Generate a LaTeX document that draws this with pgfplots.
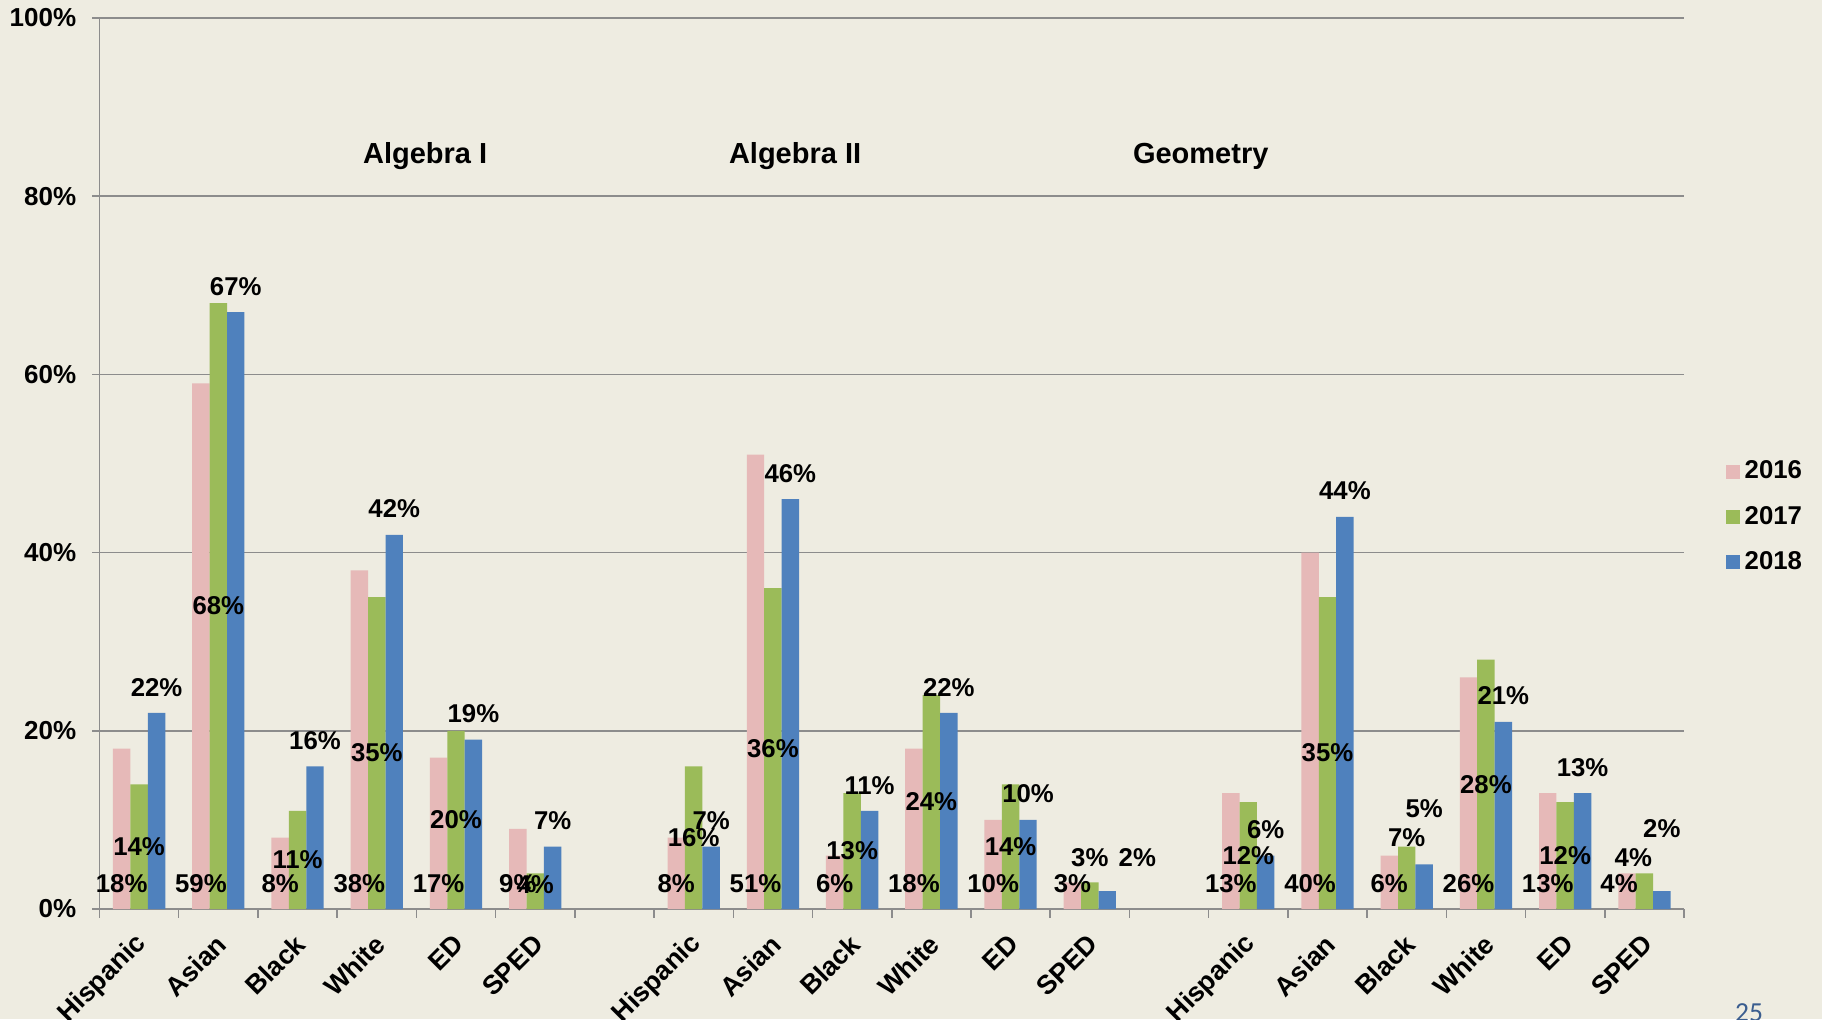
\documentclass[border=0pt]{standalone}
\usepackage{pgfplots}
\pgfplotsset{compat=1.18}
\usepackage{pgfplotstable}
\usepackage{fontspec}
\setmainfont{Liberation Sans}
\newfontfamily\pnfont{Carlito}
\definecolor{bg}{HTML}{EEECE1}
\definecolor{cpink}{HTML}{E6B9B8}
\definecolor{cgreen}{HTML}{9BBB59}
\definecolor{cblue}{HTML}{4F81BD}
\definecolor{gridc}{HTML}{8C8C8C}
\definecolor{pnum}{HTML}{3A5D8F}
\newcommand\lbfont{\bfseries\fontsize{10.3}{12}\selectfont}

% columns: x position, value, label y, label x offset
\pgfplotstableread{
x v ly dx
0 18 2.8 0
1 59 2.8 0
2 8 2.8 0
3 38 2.8 0
4 17 2.8 0
5 9 2.8 0
7 8 2.8 0
8 51 2.8 0
9 6 2.8 0
10 18 2.8 0
11 10 2.8 0
12 3 2.8 0
14 13 2.8 0
15 40 2.8 0
16 6 2.8 0
17 26 2.8 0
18 13 2.8 0
19 4 2.8 -0.1
}\tA
\pgfplotstableread{
x v ly dx
0 14 7 0
1 68 34 0
2 11 5.5 0
3 35 17.5 0
4 20 10 0
5 4 2.7 0
7 16 8 0
8 36 18 0
9 13 6.5 0
10 24 12 0
11 14 7 0
12 3 5.8 0
14 12 6 0
15 35 17.5 0
16 7 8 0
17 28 14 0
18 12 6 0
19 4 5.8 -0.14
}\tB
\pgfplotstableread{
x v ly dx
0 22 24.9 0
1 67 69.9 0
2 16 18.9 0
3 42 44.9 0
4 19 21.9 0
5 7 9.9 0
7 7 9.9 0
8 46 48.9 0
9 11 13.9 0
10 22 24.9 0
11 10 12.9 0
12 2 5.8 0.38
14 6 8.9 0
15 44 46.9 0
16 5 11.3 0
17 21 23.9 0
18 13 15.9 0
19 2 9.0 0
}\tC

\begin{document}
\begin{tikzpicture}
\fill[bg] (-39.8pt,-44pt) rectangle (689pt,363.6pt);
\begin{axis}[
  scale only axis, width=633.8pt, height=356.4pt,
  xmin=-0.5, xmax=19.5, ymin=0, ymax=100,
  axis x line*=bottom, axis y line*=left,
  axis line style={gridc, line width=0.6pt},
  /pgf/number format/assume math mode=true,
  ytick={0,20,40,60,80,100},
  yticklabels={0\%,20\%,40\%,60\%,80\%,100\%},
  yticklabel style={font=\bfseries\fontsize{10.4}{12}\selectfont, xshift=-3pt},
  ymajorgrids, grid style={gridc, line width=0.6pt},
  xtick={0,1,2,3,4,5,7,8,9,10,11,12,14,15,16,17,18,19},
  xticklabels={Hispanic,Asian,Black,White,ED,SPED,Hispanic,Asian,Black,White,ED,SPED,Hispanic,Asian,Black,White,ED,SPED},
  xticklabel style={rotate=45, anchor=east, font=\bfseries\fontsize{10.7}{12}\selectfont, xshift=-2.3pt, yshift=-7.6pt},
  minor xtick={-0.5,0.5,1.5,2.5,3.5,4.5,5.5,6.5,7.5,8.5,9.5,10.5,11.5,12.5,13.5,14.5,15.5,16.5,17.5,18.5,19.5},
  tick align=outside,
  major tick length=2.8pt,
  minor tick length=3.4pt,
  tick style={gridc, line width=0.6pt},
  major x tick style={draw=none},
  legend image code/.code={\fill[#1] (0pt,-2.8pt) rectangle (5.6pt,2.8pt);},
  legend style={draw=none, fill=none, at={(1.026,0.44)}, anchor=west,
    font=\bfseries\fontsize{10.3}{12}\selectfont, row sep=5.4pt, inner sep=0pt},
  legend cell align=left,
  clip=false,
]
\addplot[ybar, bar width=0.22, bar shift=-0.22, fill=cpink, draw=none] table[x=x, y=v] {\tA};
\addplot[ybar, bar width=0.22, bar shift=0, fill=cgreen, draw=none] table[x=x, y=v] {\tB};
\addplot[ybar, bar width=0.22, bar shift=0.22, fill=cblue, draw=none] table[x=x, y=v] {\tC};
\legend{2016,2017,2018}

\addplot[draw=none, mark=none, forget plot, point meta=explicit symbolic,
  nodes near coords={\pgfplotspointmeta\%},
  every node near coord/.append style={anchor=center, font=\lbfont, text=black}]
  table[x expr=\thisrow{x}-0.22+\thisrow{dx}, y=ly, meta=v] {\tA};
\addplot[draw=none, mark=none, forget plot, point meta=explicit symbolic,
  nodes near coords={\pgfplotspointmeta\%},
  every node near coord/.append style={anchor=center, font=\lbfont, text=black}]
  table[x expr=\thisrow{x}+\thisrow{dx}, y=ly, meta=v] {\tB};
\addplot[draw=none, mark=none, forget plot, point meta=explicit symbolic,
  nodes near coords={\pgfplotspointmeta\%},
  every node near coord/.append style={anchor=center, font=\lbfont, text=black}]
  table[x expr=\thisrow{x}+0.22+\thisrow{dx}, y=ly, meta=v] {\tC};

\node[font=\bfseries\fontsize{11.6}{14}\selectfont] at (axis cs:3.61,84.5) {Algebra I};
\node[font=\bfseries\fontsize{11.6}{14}\selectfont] at (axis cs:8.28,84.5) {Algebra II};
\node[font=\bfseries\fontsize{11.6}{14}\selectfont] at (axis cs:13.40,84.5) {Geometry};
\end{axis}
\node[anchor=north, inner sep=0pt, font=\pnfont\fontsize{11}{13}\selectfont, text=pnum] at (659.8pt,-37.6pt) {25};
\pgfresetboundingbox
\path (-39.8pt,-44pt) rectangle (689pt,363.6pt);
\end{tikzpicture}
\end{document}
